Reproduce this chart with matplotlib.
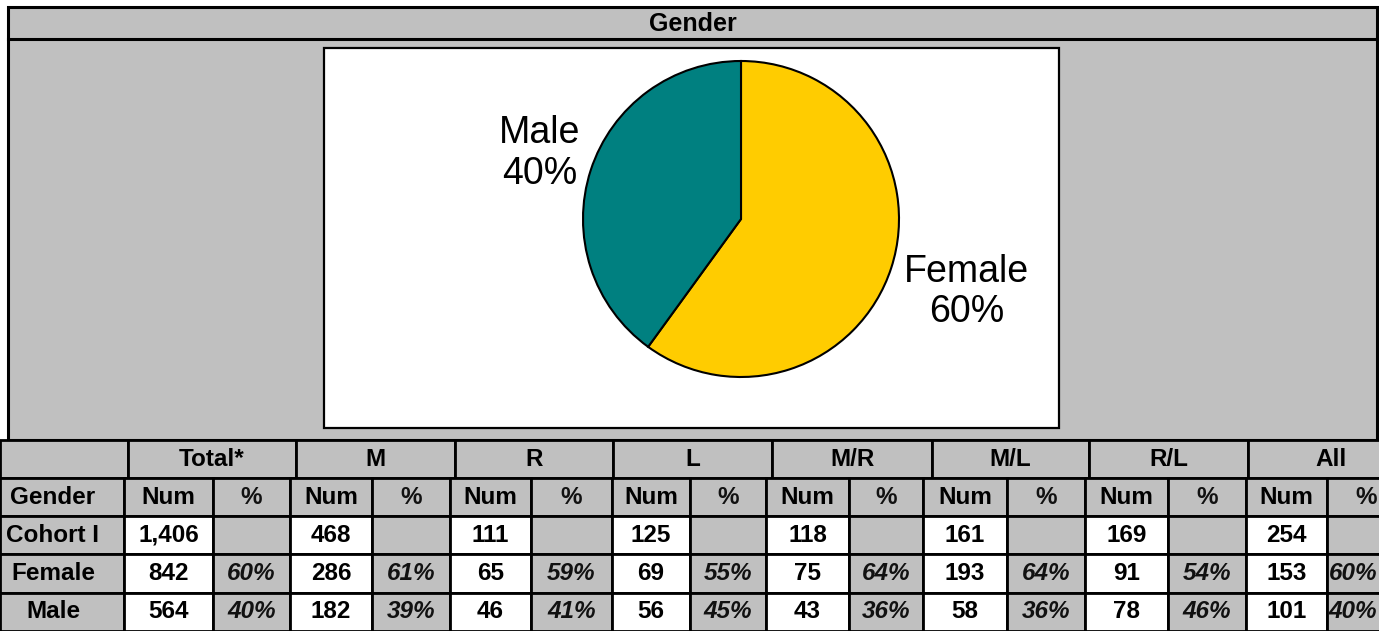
import matplotlib
matplotlib.use("Agg")
import matplotlib.pyplot as plt
from matplotlib.patches import Rectangle
import numpy as np

plt.rcParams['font.family'] = ['Liberation Sans', 'DejaVu Sans']

# ---------------- data ----------------
title = "Gender"
pie_labels = ["Female", "Male"]
pie_values = [60, 40]
pie_colors = ["#FFCC00", "#008080"]

groups = ["Total*", "M", "R", "L", "M/R", "M/L", "R/L", "All"]
row_labels = ["Gender", "Cohort I", "Female", "Male"]
sub_headers = ["Num", "%"]
cohort_num = ["1,406", "468", "111", "125", "118", "161", "169", "254"]
female_num = [842, 286, 65, 69, 75, 193, 91, 153]
female_pct = [60, 61, 59, 55, 64, 64, 54, 60]
male_num = [564, 182, 46, 56, 43, 58, 78, 101]
male_pct = [40, 39, 41, 45, 36, 36, 46, 40]

# ---------------- layout (pixels) ----------------
W, H = 1379, 631
GRAY = "#C0C0C0"
fig = plt.figure(figsize=(W / 100, H / 100), dpi=100)
fig.patch.set_facecolor("white")
bg = fig.add_axes([0, 0, 1, 1])
bg.set_xlim(0, W)
bg.set_ylim(H, 0)
bg.axis("off")

# outer frame
frame_l, frame_r, frame_t, frame_b, title_b = 8, 1377, 7, 440, 39
bg.add_patch(Rectangle((frame_l, frame_t), frame_r - frame_l, frame_b - frame_t,
                       facecolor=GRAY, edgecolor="black", lw=2.2, zorder=1))
bg.plot([frame_l, frame_r], [title_b, title_b], color="black", lw=2.2, zorder=2)
bg.text((frame_l + frame_r) / 2, (frame_t + title_b) / 2 + 1, title,
        ha="center", va="center", fontsize=18, fontweight="bold", zorder=3)

# pie box
box_l, box_r, box_t, box_b = 324, 1059, 48, 428
bg.add_patch(Rectangle((box_l, box_t), box_r - box_l, box_b - box_t,
                       facecolor="white", edgecolor="black", lw=1.6, zorder=2))

# ---------------- table ----------------
row_y = [440, 478, 516, 554, 593, 631]
hdr_x = [0, 128, 296, 455, 613, 772, 932, 1089, 1248, 1420]
col_x = [0, 124, 213, 290, 372, 450, 531, 612, 690, 766, 849, 923, 1007,
         1085, 1168, 1246, 1327, 1420]
LW = 2.0
FS = 17.5
label_cx = 53


def cell(x0, x1, y0, y1, fc):
    bg.add_patch(Rectangle((x0, y0), x1 - x0, y1 - y0, facecolor=fc,
                           edgecolor="black", lw=LW, zorder=4, clip_on=False))


# header row with group names
for i in range(len(hdr_x) - 1):
    x0, x1 = hdr_x[i], hdr_x[i + 1]
    cell(x0, x1, row_y[0], row_y[1], GRAY)
    if i > 0:
        cx = (x0 + x1) / 2 if x1 <= W else (x0 + W) / 2 + 18
        bg.text(cx, (row_y[0] + row_y[1]) / 2, groups[i - 1], ha="center",
                va="center", fontsize=FS, fontweight="bold", zorder=5)

rows_data = [
    (row_labels[0], [sub_headers[0]] * 8, [sub_headers[1]] * 8, GRAY, False),
    (row_labels[1], cohort_num, [""] * 8, "white", False),
    (row_labels[2], [str(v) for v in female_num], [f"{v}%" for v in female_pct], "white", True),
    (row_labels[3], [str(v) for v in male_num], [f"{v}%" for v in male_pct], "white", True),
]

for r, (lab, nums, pcts, numfc, ital) in enumerate(rows_data):
    y0, y1 = row_y[r + 1], row_y[r + 2]
    yc = (y0 + y1) / 2
    cell(col_x[0], col_x[1], y0, y1, GRAY)
    bg.text(label_cx, yc, lab, ha="center", va="center", fontsize=FS,
            fontweight="bold", zorder=5)
    for g in range(len(groups)):
        nx0, nx1 = col_x[1 + 2 * g], col_x[2 + 2 * g]
        px0, px1 = col_x[2 + 2 * g], col_x[3 + 2 * g]
        cell(nx0, nx1, y0, y1, numfc)
        cell(px0, px1, y0, y1, GRAY)
        bg.text((nx0 + nx1) / 2, yc, nums[g], ha="center", va="center",
                fontsize=FS, fontweight="bold", zorder=5)
        if px1 <= W:
            bg.text((px0 + px1) / 2, yc, pcts[g], ha="center", va="center",
                    fontsize=FS, fontweight="bold",
                    style="italic" if ital else "normal",
                    color="#111111", zorder=5)
        else:
            bg.text(W - 2, yc, pcts[g], ha="right", va="center",
                    fontsize=FS, fontweight="bold",
                    style="italic" if ital else "normal",
                    color="#111111", zorder=5)

# ---------------- pie ----------------
cx, cy, rad = 741, 219, 158
pax = fig.add_axes([(cx - rad) / W, 1 - (cy + rad) / H, 2 * rad / W, 2 * rad / H])
wedges, _ = pax.pie(pie_values, colors=pie_colors, startangle=90,
                    counterclock=False,
                    wedgeprops=dict(edgecolor="black", linewidth=1.5))
pax.set_xlim(-1, 1)
pax.set_ylim(-1, 1)
pax.set_aspect("equal")
pax.axis("off")

label_dist = [1.5, 1.34]
for w, lab, val, d in zip(wedges, pie_labels, pie_values, label_dist):
    mid = np.deg2rad((w.theta1 + w.theta2) / 2)
    pax.text(d * np.cos(mid), d * np.sin(mid), f"{lab}\n{val}%",
             ha="center", va="center", fontsize=27, linespacing=1.15,
             clip_on=False)

fig.savefig("out.png", dpi=100)
